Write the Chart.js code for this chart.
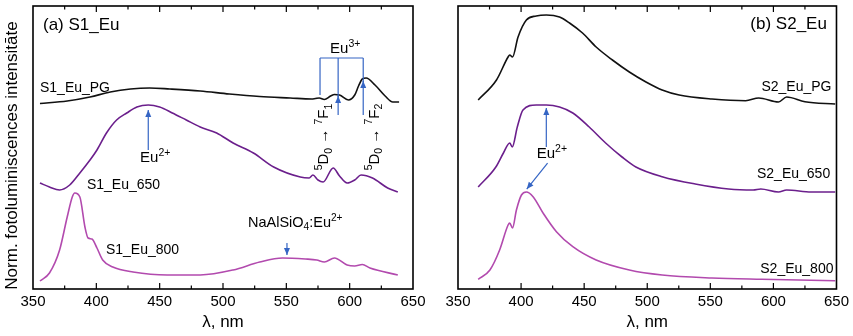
<!DOCTYPE html>
<html>
<head>
<meta charset="utf-8">
<script src="https://cdn.jsdelivr.net/npm/chart.js@4/dist/chart.umd.min.js"></script>
<style>
html, body { margin: 0; padding: 0; background: #fff; }
#wrap { position: relative; width: 853px; height: 336px; }
.panel { position: absolute; top: 0; height: 336px; }
</style>
</head>
<body>
<div id="wrap">
  <div class="panel" style="left:0;width:430px"><canvas id="left" width="430" height="336"></canvas></div>
  <div class="panel" style="left:430px;width:423px"><canvas id="right" width="423" height="336"></canvas></div>
</div>
<script>
// wavelength axis (nm)
var xTicks = [350, 400, 450, 500, 550, 600, 650];

// (a) S1_Eu  -- values are offset-stacked normalised intensities
var s1PgNm  = [355.5, 377, 395, 411, 427, 442, 458, 482, 505, 529, 553, 570, 573, 576, 580, 585, 588, 592, 599, 604, 607, 610, 613, 620, 628, 634, 639];
var s1PgVal = [185.5, 188, 192, 197, 200, 201, 200, 198, 195, 192.5, 191, 190, 190.5, 191, 189.5, 193, 194.5, 194, 189, 194, 203, 210, 211, 204, 193, 187, 187];

var s1650Nm  = [355.5, 363, 371, 379, 387, 395, 400.5, 408, 416, 424, 432, 441, 450, 460, 471, 482, 495, 508, 524, 540, 561, 568, 571, 575, 579, 587, 592, 598, 604, 609, 618, 630, 638];
var s1650Val = [106, 102, 99, 104, 116, 129, 139, 156, 169, 176, 182, 184, 182, 176, 169, 162, 156, 146, 136, 122, 112, 111, 114, 109, 107, 121, 113, 106, 109, 114, 111, 101, 97];

var s1800Nm  = [355.5, 363, 371, 377, 381, 383, 387, 391, 393.5, 396.5, 400.5, 405, 413, 429, 456, 482, 508, 529, 547, 565, 574, 580, 588, 598, 604, 610, 616, 638];
var s1800Val = [8, 16, 39, 72, 92, 96, 92, 62, 51, 50, 41, 29, 22, 17, 14, 14, 19, 27, 31, 30, 29, 27, 31, 24, 23, 24.5, 21, 14];

// (b) S2_Eu
var s2PgNm  = [366, 380.5, 389.7, 391, 393.2, 397.6, 404.2, 412, 420, 430.5, 438.4, 448.7, 459.5, 472.4, 485.8, 499, 511.8, 525.3, 551.3, 578, 588.4, 604, 610.5, 625, 649];
var s2PgVal = [189, 209, 232, 234, 232, 252, 269, 273, 274, 272, 266, 256, 242, 229, 217, 207, 199, 194, 190, 188.3, 191, 187, 192, 187.3, 185];

var s2650Nm  = [366, 380, 386, 391, 393, 397, 401.5, 412, 420, 430.5, 441, 454, 467, 480, 491, 511.8, 538, 564.5, 584, 590, 604, 610.5, 630, 649];
var s2650Val = [102, 122, 136, 146, 142, 162, 179, 184, 184, 182, 176, 162, 146, 132, 122, 112.3, 105, 100, 99, 100, 97, 99, 97, 97];

var s2800Nm  = [366, 375.3, 383, 389.7, 391, 393.2, 396.3, 400.3, 404.2, 409.5, 417.4, 428, 441, 459.5, 485.8, 511.8, 551.3, 590.8, 649];
var s2800Val = [9.7, 19, 39, 64, 66, 61, 79, 94, 97, 92.3, 76, 57.3, 42.3, 29, 19, 14, 11, 9.7, 8.3];

var BLACK = '#111111', PURPLE = '#6b1f8c', MAGENTA = '#b24aae', BLUE = '#3565c4';
var FONT = '"Liberation Sans", Arial, sans-serif';

function pts(xs, ys) {
  return xs.map(function (x, i) { return { x: x, y: ys[i] }; });
}

function line(label, xs, ys, color) {
  return {
    label: label, data: pts(xs, ys), borderColor: color, borderWidth: 1.6,
    pointRadius: 0, fill: false, cubicInterpolationMode: 'monotone'
  };
}

// text with sup/sub runs, y is middle of the main text
function drawRich(ctx, runs, x, y, size, align) {
  var w = 0;
  runs.forEach(function (r) {
    ctx.font = (r[1] ? size * 0.7 : size) + 'px ' + FONT;
    w += ctx.measureText(r[0]).width;
  });
  var cx = align === 'right' ? x - w : align === 'center' ? x - w / 2 : x;
  var base = y + size * 0.36;
  ctx.textAlign = 'left';
  ctx.textBaseline = 'alphabetic';
  runs.forEach(function (r) {
    var s = r[1] ? size * 0.7 : size;
    var dy = r[1] === 'sup' ? -size * 0.45 : r[1] === 'sub' ? size * 0.22 : 0;
    ctx.font = s + 'px ' + FONT;
    ctx.fillText(r[0], cx, base + dy);
    cx += ctx.measureText(r[0]).width;
  });
}

function arrowHead(ctx, x1, y1, x2, y2) {
  var a = Math.atan2(y2 - y1, x2 - x1), L = 7, W = 3;
  ctx.beginPath();
  ctx.moveTo(x2, y2);
  ctx.lineTo(x2 - L * Math.cos(a) + W * Math.sin(a), y2 - L * Math.sin(a) - W * Math.cos(a));
  ctx.lineTo(x2 - L * Math.cos(a) - W * Math.sin(a), y2 - L * Math.sin(a) + W * Math.cos(a));
  ctx.closePath();
  ctx.fill();
}

var leftNotes = {
  texts: [
    { x: 357.9, y: 265, runs: [['(a) S1_Eu', '']], size: 17, align: 'left' },
    { x: 355.5, y: 202, runs: [['S1_Eu_PG', '']], size: 14, align: 'left' },
    { x: 392.6, y: 105, runs: [['S1_Eu_650', '']], size: 14, align: 'left' },
    { x: 407.6, y: 40, runs: [['S1_Eu_800', '']], size: 14, align: 'left' },
    { x: 519.7, y: 67, runs: [['NaAlSiO', ''], ['4', 'sub'], [':Eu', ''], ['2+', 'sup']], size: 14.5, align: 'left' },
    { x: 434.5, y: 132, runs: [['Eu', ''], ['2+', 'sup']], size: 15, align: 'left' },
    { x: 584.5, y: 241, runs: [['Eu', ''], ['3+', 'sup']], size: 15, align: 'left' }
  ],
  rotated: [
    { x: 579, y: 152, runs: [['5', 'sup'], ['D', ''], ['0', 'sub'], [' \u2192 ', ''], ['7', 'sup'], ['F', ''], ['1', 'sub']], size: 15 },
    { x: 619, y: 152, runs: [['5', 'sup'], ['D', ''], ['0', 'sub'], [' \u2192 ', ''], ['7', 'sup'], ['F', ''], ['2', 'sub']], size: 15 }
  ],
  lines: [[576.6, 231, 610.7, 231], [576.6, 231, 576.6, 194], [590.9, 231, 590.9, 192], [610.7, 231, 610.7, 207]],
  arrows: [[550.5, 46, 550.5, 34], [441, 139, 441, 179], [590.9, 174, 590.9, 193], [610.7, 174, 610.7, 208]]
};

var rightNotes = {
  texts: [
    { x: 642.4, y: 266, runs: [['(b) S2_Eu', '']], size: 17, align: 'right' },
    { x: 646, y: 203, runs: [['S2_Eu_PG', '']], size: 14, align: 'right' },
    { x: 645, y: 116, runs: [['S2_Eu_650', '']], size: 14, align: 'right' },
    { x: 647.6, y: 21, runs: [['S2_Eu_800', '']], size: 14, align: 'right' },
    { x: 412.4, y: 136, runs: [['Eu', ''], ['2+', 'sup']], size: 15, align: 'left' }
  ],
  rotated: [],
  lines: [],
  arrows: [[420, 142, 420, 181], [421, 126, 404.5, 100]]
};

var framePlugin = {
  id: 'frame',
  afterDraw: function (chart) {
    var ctx = chart.ctx, a = chart.chartArea;
    var xs = chart.scales.x, ys = chart.scales.y;
    var notes = chart.options.plugins.frame.notes;
    ctx.save();
    // frame
    ctx.strokeStyle = '#000';
    ctx.lineWidth = 1.6;
    ctx.strokeRect(a.left, a.top, a.right - a.left, a.bottom - a.top);
    // inward ticks top and bottom
    ctx.lineWidth = 1.2;
    for (var v = 375; v < 650; v += 25) {
      var px = xs.getPixelForValue(v);
      var len = v % 50 === 0 ? 6 : 3.5;
      ctx.beginPath();
      ctx.moveTo(px, a.bottom); ctx.lineTo(px, a.bottom - len);
      ctx.moveTo(px, a.top); ctx.lineTo(px, a.top + len);
      ctx.stroke();
    }
    // y axis title (left panel only)
    if (chart.options.plugins.frame.yTitle) {
      ctx.save();
      ctx.translate(12, (a.top + a.bottom) / 2 + 8);
      ctx.rotate(-Math.PI / 2);
      ctx.fillStyle = '#000';
      ctx.font = '17px ' + FONT;
      ctx.textAlign = 'center';
      ctx.textBaseline = 'middle';
      ctx.fillText(chart.options.plugins.frame.yTitle, 0, 0);
      ctx.restore();
    }
    // annotations
    ctx.strokeStyle = BLUE;
    ctx.fillStyle = BLUE;
    ctx.lineWidth = 1.2;
    notes.lines.forEach(function (l) {
      ctx.beginPath();
      ctx.moveTo(xs.getPixelForValue(l[0]), ys.getPixelForValue(l[1]));
      ctx.lineTo(xs.getPixelForValue(l[2]), ys.getPixelForValue(l[3]));
      ctx.stroke();
    });
    notes.arrows.forEach(function (l) {
      var x1 = xs.getPixelForValue(l[0]), y1 = ys.getPixelForValue(l[1]);
      var x2 = xs.getPixelForValue(l[2]), y2 = ys.getPixelForValue(l[3]);
      ctx.beginPath();
      ctx.moveTo(x1, y1); ctx.lineTo(x2, y2);
      ctx.stroke();
      arrowHead(ctx, x1, y1, x2, y2);
    });
    ctx.fillStyle = '#000';
    notes.texts.forEach(function (t) {
      drawRich(ctx, t.runs, xs.getPixelForValue(t.x), ys.getPixelForValue(t.y), t.size, t.align);
    });
    notes.rotated.forEach(function (t) {
      ctx.save();
      ctx.translate(xs.getPixelForValue(t.x), ys.getPixelForValue(t.y));
      ctx.rotate(-Math.PI / 2);
      drawRich(ctx, t.runs, 0, 0, t.size, 'center');
      ctx.restore();
    });
    ctx.restore();
  }
};

function makeChart(id, datasets, pad, notes, yTitle) {
  return new Chart(document.getElementById(id).getContext('2d'), {
    type: 'line',
    data: { datasets: datasets },
    options: {
      responsive: false,
      animation: false,
      layout: { padding: pad },
      plugins: {
        legend: { display: false },
        tooltip: { enabled: false },
        frame: { notes: notes, yTitle: yTitle }
      },
      scales: {
        x: {
          type: 'linear', min: 350, max: 650,
          afterBuildTicks: function (s) { s.ticks = xTicks.map(function (v) { return { value: v }; }); },
          grid: { display: false, drawTicks: false },
          border: { display: false },
          ticks: { color: '#000', padding: 4, maxRotation: 0, font: { size: 15, family: FONT } },
          title: { display: true, text: '\u03bb, nm', color: '#000', font: { size: 17, family: FONT }, padding: { top: 0, bottom: 3 } },
          afterFit: function (s) { s.height = 47; }
        },
        y: { display: false, min: 0, max: 283 }
      }
    },
    plugins: [framePlugin]
  });
}

makeChart('left', [
  line('S1_Eu_PG', s1PgNm, s1PgVal, BLACK),
  line('S1_Eu_650', s1650Nm, s1650Val, PURPLE),
  line('S1_Eu_800', s1800Nm, s1800Val, MAGENTA)
], { left: 33, right: 17, top: 6, bottom: 0 }, leftNotes, 'Norm. fotoluminiscences intensit\u0101te');

makeChart('right', [
  line('S2_Eu_PG', s2PgNm, s2PgVal, BLACK),
  line('S2_Eu_650', s2650Nm, s2650Val, PURPLE),
  line('S2_Eu_800', s2800Nm, s2800Val, MAGENTA)
], { left: 28, right: 15, top: 6, bottom: 0 }, rightNotes, null);
</script>
</body>
</html>
